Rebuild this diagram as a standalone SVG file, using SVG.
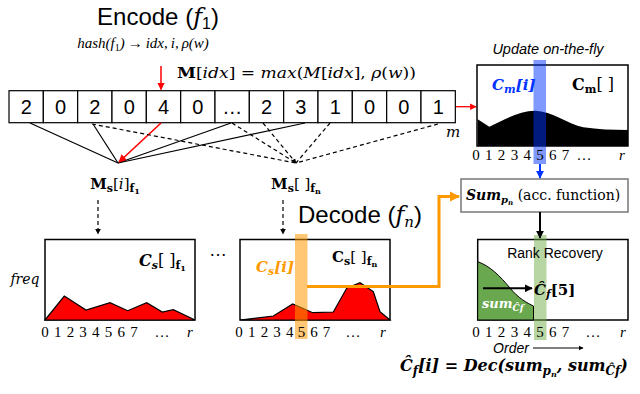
<svg xmlns="http://www.w3.org/2000/svg" width="640" height="394" viewBox="0 0 640 394">
<defs>
<style>
.sans{font-family:"Liberation Sans",Arial,sans-serif}
.ser{font-family:"DejaVu Serif","Liberation Serif",serif}
.lser{font-family:"Liberation Serif","Times New Roman",serif}
.cell{fill:#fff;stroke:#000;stroke-width:1.2}
.dig{font-family:"Liberation Sans",Arial,sans-serif;font-size:20px;text-anchor:middle}
.ax{font-family:"Liberation Serif",serif;font-size:15px;text-anchor:middle}
.box{fill:#fff;stroke:#000;stroke-width:1.5}
.sl{stroke:#000;stroke-width:1.2;fill:none}
.dl{stroke:#000;stroke-width:1.2;fill:none;stroke-dasharray:4 3}
.bi{font-weight:bold;font-style:italic}
.b{font-weight:bold}
.i{font-style:italic}
</style>
<marker id="ab" viewBox="0 0 10 10" refX="9" refY="5" markerWidth="5" markerHeight="5" orient="auto"><path d="M0,0 L10,5 L0,10 Z" fill="#000"/></marker>
<marker id="ar" viewBox="0 0 10 10" refX="9" refY="5" markerWidth="5" markerHeight="5" orient="auto"><path d="M0,0 L10,5 L0,10 Z" fill="#ff0000"/></marker>
<marker id="abl" viewBox="0 0 10 10" refX="9" refY="5" markerWidth="4" markerHeight="4" orient="auto"><path d="M0,0 L10,5 L0,10 Z" fill="#0033ff"/></marker>
<marker id="ao" viewBox="0 0 10 10" refX="9" refY="5" markerWidth="3.5" markerHeight="3.5" orient="auto"><path d="M0,0 L10,5 L0,10 Z" fill="#ff9900"/></marker>
<marker id="ask" viewBox="0 0 10 10" refX="9" refY="5" markerWidth="4" markerHeight="4" orient="auto"><path d="M0,0 L10,5 L0,10 Z" fill="#000"/></marker>
</defs>
<rect width="640" height="394" fill="#fff"/>

<g id="title-encode">
<text x="158" y="25" class="sans" font-size="24" text-anchor="middle">Encode (<tspan class="ser i">f</tspan><tspan font-size="16" dy="4">1</tspan><tspan dy="-4">)</tspan></text>
<text x="143" y="48" class="lser i" font-size="15" text-anchor="middle">hash(f<tspan font-size="10" dy="3" font-style="normal">1</tspan><tspan dy="-3">)&#8201;→&#8201;idx,&#8201;i,&#8201;ρ(w)</tspan></text>
</g>

<g id="update-formula">
<text x="177" y="78" class="ser" font-size="15" textLength="239" lengthAdjust="spacingAndGlyphs"><tspan class="b">M</tspan>[<tspan class="i">idx</tspan>] = <tspan class="i">max</tspan>(<tspan class="i">M</tspan>[<tspan class="i">idx</tspan>], <tspan class="i">ρ</tspan>(<tspan class="i">w</tspan>))</text>
</g>

<g id="array">
<rect class="cell" x="9" y="90.7" width="34.33" height="32"/>
<rect class="cell" x="43.33" y="90.7" width="34.33" height="32"/>
<rect class="cell" x="77.67" y="90.7" width="34.33" height="32"/>
<rect class="cell" x="112" y="90.7" width="34.33" height="32"/>
<rect class="cell" x="146.33" y="90.7" width="34.33" height="32"/>
<rect class="cell" x="180.67" y="90.7" width="34.33" height="32"/>
<rect class="cell" x="215" y="90.7" width="34.33" height="32"/>
<rect class="cell" x="249.33" y="90.7" width="34.33" height="32"/>
<rect class="cell" x="283.67" y="90.7" width="34.33" height="32"/>
<rect class="cell" x="318" y="90.7" width="34.33" height="32"/>
<rect class="cell" x="352.33" y="90.7" width="34.33" height="32"/>
<rect class="cell" x="386.67" y="90.7" width="34.33" height="32"/>
<rect class="cell" x="421" y="90.7" width="34.33" height="32"/>
<text class="dig" x="26.2" y="114">2</text>
<text class="dig" x="60.5" y="114">0</text>
<text class="dig" x="94.8" y="114">2</text>
<text class="dig" x="129.2" y="114">0</text>
<text class="dig" x="163.5" y="114">4</text>
<text class="dig" x="197.8" y="114">0</text>
<text class="dig" x="232.2" y="114">…</text>
<text class="dig" x="266.5" y="114">2</text>
<text class="dig" x="300.8" y="114">3</text>
<text class="dig" x="335.2" y="114">1</text>
<text class="dig" x="369.5" y="114">0</text>
<text class="dig" x="403.8" y="114">0</text>
<text class="dig" x="438.2" y="114">1</text>
<text x="453" y="137" class="ser i" font-size="15" text-anchor="middle">m</text>
</g>

<g id="ms-f1">
<text x="115" y="189" class="ser" font-size="15" text-anchor="middle"><tspan class="b">M</tspan><tspan class="b" font-size="11" dy="3">s</tspan><tspan dy="-3">[</tspan><tspan class="i">i</tspan>]<tspan class="b" font-size="11" dy="3">f</tspan><tspan class="b" font-size="8" dy="2">1</tspan></text>
</g>

<g id="ms-fn">
<text x="296" y="189" class="ser" font-size="15" text-anchor="middle"><tspan class="b">M</tspan><tspan class="b" font-size="11" dy="3">s</tspan><tspan dy="-3">[ ]</tspan><tspan class="b" font-size="11" dy="3">f</tspan><tspan class="b" font-size="8" dy="2">n</tspan></text>
</g>

<g id="title-decode">
<text x="360" y="223" class="sans" font-size="24" text-anchor="middle">Decode (<tspan class="ser i">f</tspan><tspan class="ser i" font-size="15" dy="4">n</tspan><tspan dy="-4">)</tspan></text>
</g>

<g id="chart-f1">
<rect class="box" x="45" y="239.5" width="150" height="80.5"/>
<polygon points="45,320 64.3,296 86,310 110,302.7 127.7,310.7 146.7,302.7 162.3,312 173.3,309.7 195,320" fill="#ff0000" stroke="#000" stroke-width="1.2"/>
<text x="139" y="266" class="ser" font-size="16"><tspan class="bi">C</tspan><tspan class="bi" font-size="11" dy="3">s</tspan><tspan dy="-3">[ ]</tspan><tspan class="b" font-size="11" dy="3">f</tspan><tspan class="b" font-size="8" dy="2">1</tspan></text>
<text x="25" y="284" class="ser i" font-size="14" text-anchor="middle">freq</text>
<text class="ax" x="45" y="337">0</text><text class="ax" x="57.7" y="337">1</text><text class="ax" x="70.4" y="337">2</text><text class="ax" x="83.1" y="337">3</text><text class="ax" x="95.8" y="337">4</text><text class="ax" x="108.5" y="337">5</text><text class="ax" x="121.2" y="337">6</text><text class="ax" x="133.9" y="337">7</text><text class="ax" x="162" y="337">…</text><text class="ax i" x="190" y="337">r</text>
</g>

<g id="dots-between">
<text x="218" y="256" class="sans" font-size="18" text-anchor="middle">…</text>
</g>

<g id="chart-fn">
<rect class="box" x="240" y="239.5" width="150" height="80.5"/>
<polygon points="240,320 273.3,316 292.7,304 312.7,312.7 333.3,312 346.7,288.3 360,282.7 373.3,291.7 380,311.7 390,320" fill="#ff0000" stroke="#000" stroke-width="1.2"/>
<rect x="295" y="234" width="12.5" height="105" fill="#ff9900" opacity="0.55"/>
<text x="256" y="272" class="ser bi" font-size="15" fill="#ff9900">C<tspan font-size="11" dy="3">s</tspan><tspan dy="-3">[i]</tspan></text>
<text x="332" y="262" class="ser" font-size="15"><tspan class="b">C</tspan><tspan class="b" font-size="11" dy="3">s</tspan><tspan dy="-3">[ ]</tspan><tspan class="b" font-size="11" dy="3">f</tspan><tspan class="b" font-size="8" dy="2">n</tspan></text>
<text class="ax" x="239" y="337">0</text><text class="ax" x="251.7" y="337">1</text><text class="ax" x="264.4" y="337">2</text><text class="ax" x="277.1" y="337">3</text><text class="ax" x="289.8" y="337">4</text><text class="ax" x="301.5" y="337">5</text><text class="ax" x="314" y="337">6</text><text class="ax" x="326.5" y="337">7</text><text class="ax" x="353" y="337">…</text><text class="ax i" x="383" y="337">r</text>
</g>

<g id="chart-cm">
<text x="548" y="54" class="sans i" font-size="14.5" text-anchor="middle">Update on-the-fly</text>
<rect class="box" x="477" y="65" width="151" height="81"/>
<path d="M477.7,119.3 L489.3,126.7 C505,119 520,111 535,110.7 C552,111 568,124 583.3,127.3 C598,129.5 612,130 628,130 L628,146 L477.7,146 Z" fill="#000"/>
<text x="492" y="90" class="ser bi" font-size="15" fill="#0033ff">C<tspan font-size="11" dy="3">m</tspan><tspan dy="-3">[i]</tspan></text>
<text x="572" y="90" class="ser" font-size="16"><tspan class="b">C</tspan><tspan class="b" font-size="11" dy="3">m</tspan><tspan dy="-3">[ ]</tspan></text>
<rect x="533.5" y="60" width="12.5" height="104" fill="#0033ff" opacity="0.5"/>
<text class="ax" x="476" y="160">0</text><text class="ax" x="488.8" y="160">1</text><text class="ax" x="501.6" y="160">2</text><text class="ax" x="514.4" y="160">3</text><text class="ax" x="527.2" y="160">4</text><text class="ax" x="540" y="160">5</text><text class="ax" x="552.8" y="160">6</text><text class="ax" x="565.6" y="160">7</text><text class="ax" x="584" y="160">…</text><text class="ax i" x="622" y="160">r</text>
</g>

<g id="sum-box">
<rect x="461" y="179" width="167" height="33" fill="#fff" stroke="#777" stroke-width="1.5"/>
<text x="466" y="200" class="ser" font-size="14"><tspan class="bi">Sum</tspan><tspan class="bi" font-size="10" dy="3">p</tspan><tspan class="bi" font-size="7" dy="2">n</tspan><tspan dy="-5"> (acc. function)</tspan></text>
</g>

<g id="rank-box">
<rect class="box" x="477.7" y="239.5" width="150.3" height="80.5"/>
<path d="M477.7,261.7 C490,266 500,276 510,288 C518,298 527,303 533.5,306 L533.5,320 L477.7,320 Z" fill="#6aa84f" stroke="#000" stroke-width="1"/>
<rect x="534" y="235" width="12.5" height="105" fill="#70ad47" opacity="0.5"/>
<text x="555" y="258" class="sans" font-size="14" text-anchor="middle">Rank Recovery</text>
<text x="534" y="295" class="ser" font-size="15"><tspan class="bi">Ĉ</tspan><tspan class="bi" font-size="11" dy="3">f</tspan><tspan dy="-3" class="b">[5]</tspan></text>
<text x="482" y="308" class="ser bi" font-size="13" fill="#fff">sum<tspan font-size="9" dy="3">Ĉf</tspan></text>
<text class="ax" x="476" y="337">0</text><text class="ax" x="488.8" y="337">1</text><text class="ax" x="501.6" y="337">2</text><text class="ax" x="514.4" y="337">3</text><text class="ax" x="527.2" y="337">4</text><text class="ax" x="540" y="337">5</text><text class="ax" x="552.8" y="337">6</text><text class="ax" x="565.6" y="337">7</text><text class="ax" x="593" y="337">…</text><text class="ax i" x="623" y="337">r</text>
<text x="511" y="353" class="sans i" font-size="14" text-anchor="middle">Order</text>
</g>

<g id="decode-formula">
<text x="400" y="371" class="ser bi" font-size="16">Ĉ<tspan font-size="12" dy="4">f</tspan><tspan dy="-4">[i] = Dec(sum</tspan><tspan font-size="12" dy="4">p</tspan><tspan font-size="8" dy="2">n</tspan><tspan dy="-6">, sum</tspan><tspan font-size="12" dy="4">Ĉf</tspan><tspan dy="-4">)</tspan></text>
</g>

<g id="connectors">
<line x1="161" y1="66" x2="161" y2="89.5" stroke="#ff0000" stroke-width="1.5" marker-end="url(#ar)"/>
<line x1="456" y1="106.7" x2="476" y2="106.7" stroke="#ff0000" stroke-width="1.3" marker-end="url(#ar)"/>
<line class="sl" x1="30" y1="123" x2="118" y2="163"/>
<line class="sl" x1="93" y1="124" x2="118" y2="163"/>
<line class="sl" x1="231" y1="123" x2="118" y2="163"/>
<line class="sl" x1="305" y1="123" x2="118" y2="163"/>
<line x1="161" y1="123" x2="119" y2="162" stroke="#ff0000" stroke-width="1.6" marker-end="url(#ar)"/>
<line class="dl" x1="92" y1="124" x2="296" y2="163"/>
<line class="dl" x1="232" y1="123" x2="296" y2="163"/>
<line class="dl" x1="263" y1="123" x2="296" y2="163" marker-end="url(#ask)"/>
<line class="dl" x1="330" y1="123" x2="296" y2="163"/>
<line class="dl" x1="438" y1="124" x2="296" y2="163"/>
<line class="dl" x1="98" y1="200" x2="98" y2="234" marker-end="url(#ab)"/>
<line class="dl" x1="283" y1="200" x2="283" y2="234" marker-end="url(#ab)"/>
<line x1="540" y1="164" x2="540" y2="178" stroke="#0033ff" stroke-width="2" marker-end="url(#abl)"/>
<path d="M307,286.5 H439 V196.5 H459" fill="none" stroke="#ff9900" stroke-width="3" marker-end="url(#ao)"/>
<line x1="540" y1="212" x2="540" y2="238" stroke="#000" stroke-width="2" marker-end="url(#ask)"/>
<line x1="483" y1="288.3" x2="532" y2="288.3" stroke="#000" stroke-width="2" marker-end="url(#ask)"/>
<line x1="533" y1="348" x2="583" y2="348" stroke="#000" stroke-width="1" marker-end="url(#ab)"/>
</g>
</svg>
